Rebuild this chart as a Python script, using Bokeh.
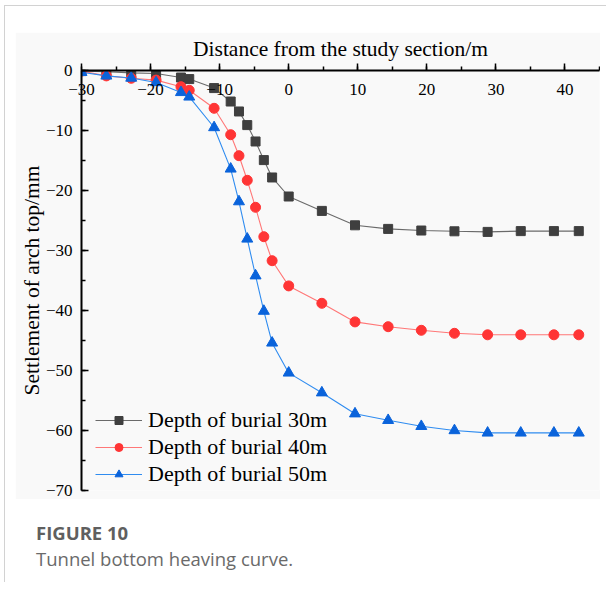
from bokeh.plotting import figure
from bokeh.layouts import column
from bokeh.models import Range1d, SingleIntervalTicker, Legend, LegendItem, Div
from bokeh.embed import file_html
from bokeh.resources import INLINE

# ---- data ----
distance = [-30, -26.4, -22.8, -19.2, -15.6, -14.4, -10.8, -8.4, -7.2, -6.0, -4.8,
            -3.6, -2.4, 0, 4.8, 9.6, 14.4, 19.2, 24.0, 28.8, 33.6, 38.4, 42.0]
depth_30m = [-0.1, -0.2, -0.4, -0.5, -1.17, -1.43, -2.93, -5.17, -6.83, -9.1, -11.83,
             -14.93, -17.83, -21.0, -23.4, -25.8, -26.4, -26.67, -26.8, -26.9, -26.77, -26.77, -26.77]
depth_40m = [-0.1, -0.9, -1.3, -1.6, -2.7, -3.3, -6.3, -10.7, -14.2, -18.3, -22.8,
             -27.7, -31.7, -35.9, -38.8, -41.9, -42.7, -43.3, -43.8, -44.05, -44.05, -44.05, -44.05]
depth_50m = [-0.3, -0.9, -1.25, -2.0, -3.65, -4.4, -9.5, -16.4, -21.85, -28.07, -34.2,
             -40.1, -45.4, -50.4, -53.7, -57.2, -58.3, -59.3, -60.0, -60.4, -60.4, -60.4, -60.4]
series_names = ["Depth of burial 30m", "Depth of burial 40m", "Depth of burial 50m"]

x_ticks = [-30, -20, -10, 0, 10, 20, 30, 40]
x_tick_labels = ["\u221230", "\u221220", "\u221210", "0", "10", "20", "30", "40"]
y_ticks = [0, -10, -20, -30, -40, -50, -60, -70]
y_tick_labels = ["0", "\u221210", "\u221220", "\u221230", "\u221240", "\u221250", "\u221260", "\u221270"]

x_title = "Distance from the study section/m"
y_title = "Settlement of arch top/mm"
caption_head = "FIGURE 10"
caption_text = "Tunnel bottom heaving curve."

SERIF = "Liberation Serif"
PANEL = "#f9f9f9"

# chart panel spans x 15..600, y 32..499 of the page; frame x 81..599, y 70..490
p = figure(width=585, height=467, output_backend="svg", toolbar_location=None,
           x_range=Range1d(-30, 45), y_range=Range1d(-70, 0),
           x_axis_location="above",
           min_border_left=66, min_border_right=1, min_border_top=38, min_border_bottom=9,
           background_fill_color=PANEL, border_fill_color=PANEL,
           outline_line_color=None, margin=(26, 0, 0, 10))
p.grid.visible = False

# x axis (top, labels drawn below the axis line)
xa = p.xaxis[0]
xa.ticker = SingleIntervalTicker(interval=10, num_minor_ticks=2)
xa.major_label_overrides = dict(zip(x_ticks, x_tick_labels))
xa.major_tick_in = 0
xa.major_tick_out = 7
xa.minor_tick_in = 0
xa.minor_tick_out = 4
xa.axis_line_width = 2
xa.major_tick_line_width = 1.5
xa.minor_tick_line_width = 1.5
xa.major_label_standoff = -31
xa.major_label_text_font = SERIF
xa.major_label_text_font_size = "17px"
xa.major_label_text_color = "black"
xa.axis_label = x_title
xa.axis_label_text_font = SERIF
xa.axis_label_text_font_size = "21.5px"
xa.axis_label_text_font_style = "normal"
xa.axis_label_text_color = "black"
xa.axis_label_standoff = 20

# y axis (left, ticks pointing inwards)
ya = p.yaxis[0]
ya.ticker = SingleIntervalTicker(interval=10, num_minor_ticks=2)
ya.major_label_overrides = dict(zip(y_ticks, y_tick_labels))
ya.major_tick_in = 7
ya.major_tick_out = 0
ya.minor_tick_in = 4
ya.minor_tick_out = 0
ya.axis_line_width = 2
ya.major_tick_line_width = 1.5
ya.minor_tick_line_width = 1.5
ya.major_label_standoff = 9
ya.major_label_text_font = SERIF
ya.major_label_text_font_size = "17px"
ya.major_label_text_color = "black"
ya.axis_label = y_title
ya.axis_label_text_font = SERIF
ya.axis_label_text_font_size = "21.5px"
ya.axis_label_text_font_style = "normal"
ya.axis_label_text_color = "black"
ya.axis_label_standoff = -1

styles = [
    (depth_30m, "#6a6a6a", "#3f3f3f", "square", 9),
    (depth_40m, "#ff7777", "#ff3535", "circle", 10),
    (depth_50m, "#2f8cf0", "#0a63db", "triangle", 11),
]
items = []
for (ys, lc, mc, mk, sz), name in zip(styles, series_names):
    ln = p.line(distance, ys, line_color=lc, line_width=1.1)
    sc = p.scatter(distance, ys, marker=mk, size=sz, fill_color=mc, line_color=mc)
    items.append(LegendItem(label=name, renderers=[ln, sc]))

legend = Legend(items=items, location=(14, 3), padding=0, margin=0,
                border_line_alpha=0, background_fill_alpha=0,
                glyph_width=47, glyph_height=20, label_height=20,
                label_standoff=6, spacing=1,
                label_text_font=SERIF, label_text_font_size="22px",
                label_text_color="black")
p.add_layout(legend)

caption = Div(
    text=(f'<div style="font-weight:700;color:#5f5f5f">{caption_head}</div>'
          f'<div style="color:#6a6a6a">{caption_text}</div>'),
    width=570, height=62, margin=(21, 0, 0, 31),
    styles={"font-family": "'Open Sans'", "font-size": "18.5px", "line-height": "25.5px"})

root = column(p, caption, margin=(5, 0, 0, 4),
              styles={"border-left": "1px solid #d2d2d2", "border-top": "1px solid #d2d2d2"})

open("out.html", "w").write(file_html(root, INLINE))
